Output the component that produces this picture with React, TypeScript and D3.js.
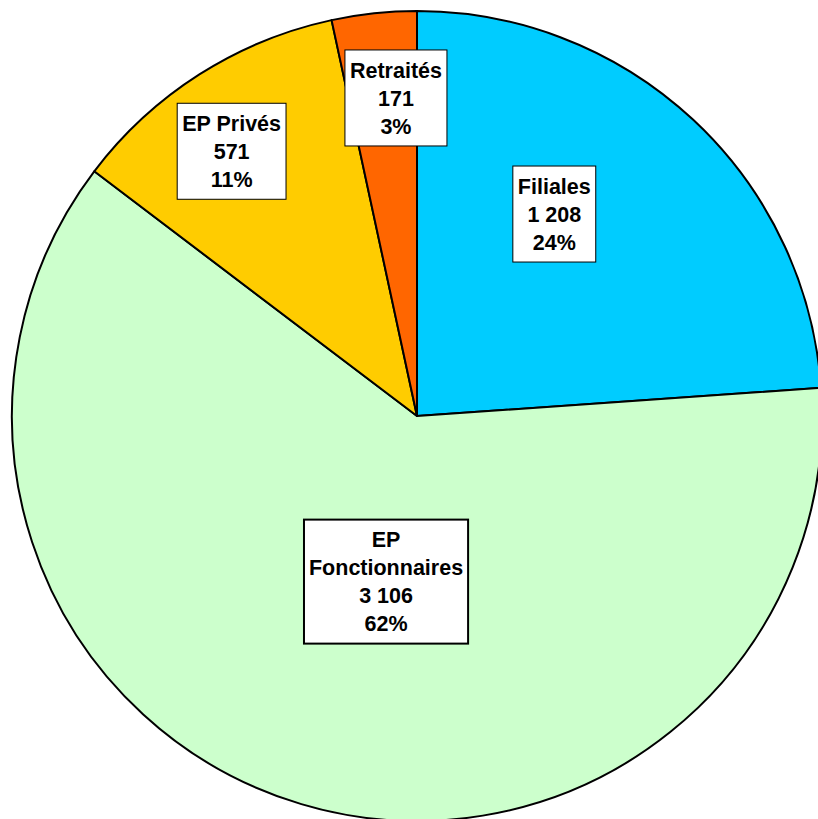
import React, { useEffect, useRef } from "react";
import * as d3 from "d3";

// slices, clockwise from 12 o'clock
const categories = ["Filiales", "EP Fonctionnaires", "EP Privés", "Retraités"];
const values = [1208, 3106, 571, 171];
const valueLabels = ["1 208", "3 106", "571", "171"];
const percentLabels = ["24%", "62%", "11%", "3%"];
const labelLines = [["Filiales"], ["EP", "Fonctionnaires"], ["EP Privés"], ["Retraités"]];
const colors = ["#00CCFF", "#CCFFCC", "#FFCC00", "#FF6600"];

// label placement: angle offset from slice mid-angle (deg) and radius fraction
const labelLayout = [
  { dAngle: -8.8, r: 0.603 },
  { dAngle: -6, r: 0.416 },
  { dAngle: -2.5, r: 0.798 },
  { dAngle: 2.3, r: 0.787 },
];

const W = 818;
const H = 819;
const cx = 417;
const cy = 416;
const R = 405;

export default function App() {
  const ref = useRef<SVGSVGElement | null>(null);

  useEffect(() => {
    const svg = d3.select(ref.current);
    svg.selectAll("*").remove();

    const pie = d3.pie<number>().sort(null).value((d) => d);
    const arcs = pie(values);
    const arc = d3.arc<d3.PieArcDatum<number>>().innerRadius(0).outerRadius(R);

    const g = svg.append("g").attr("transform", `translate(${cx},${cy})`);

    g.selectAll("path.slice")
      .data(arcs)
      .enter()
      .append("path")
      .attr("class", "slice")
      .attr("d", arc)
      .attr("fill", (d, i) => colors[i])
      .attr("stroke", "#000")
      .attr("stroke-width", 2)
      .attr("stroke-linejoin", "round");

    const lineH = 28;
    arcs.forEach((a, i) => {
      const mid = (a.startAngle + a.endAngle) / 2 + (labelLayout[i].dAngle * Math.PI) / 180;
      const rr = labelLayout[i].r * R;
      const x = rr * Math.sin(mid);
      const y = -rr * Math.cos(mid);
      const lines = [...labelLines[i], valueLabels[i], percentLabels[i]];
      const lg = g.append("g").attr("transform", `translate(${x},${y})`);
      const rect = lg.append("rect");
      const text = lg
        .append("text")
        .attr("text-anchor", "middle")
        .style("font-family", "'Liberation Sans', Arial, sans-serif")
        .style("font-weight", "bold")
        .style("font-size", "21.5px")
        .attr("fill", "#000");
      const top = -((lines.length - 1) * lineH) / 2;
      lines.forEach((t, k) => {
        text
          .append("tspan")
          .attr("x", 0)
          .attr("y", top + k * lineH)
          .attr("dy", "0.36em")
          .text(t);
      });
      const tw = d3.max(lines, (t, k) => (text.selectAll("tspan").nodes()[k] as SVGTextContentElement).getComputedTextLength()) ?? 0;
      const padX = 5;
      const padY = 6;
      const bh = lines.length * lineH + padY * 2;
      rect
        .attr("x", -tw / 2 - padX)
        .attr("y", -bh / 2)
        .attr("width", tw + padX * 2)
        .attr("height", bh)
        .attr("fill", "#fff")
        .attr("stroke", "#000")
        .attr("stroke-width", categories[i] === "EP Fonctionnaires" ? 2 : 1);
    });
  }, []);

  return (
    <svg
      ref={ref}
      width={W}
      height={H}
      style={{ position: "absolute", left: 0, top: 0, background: "#fff" }}
    />
  );
}
